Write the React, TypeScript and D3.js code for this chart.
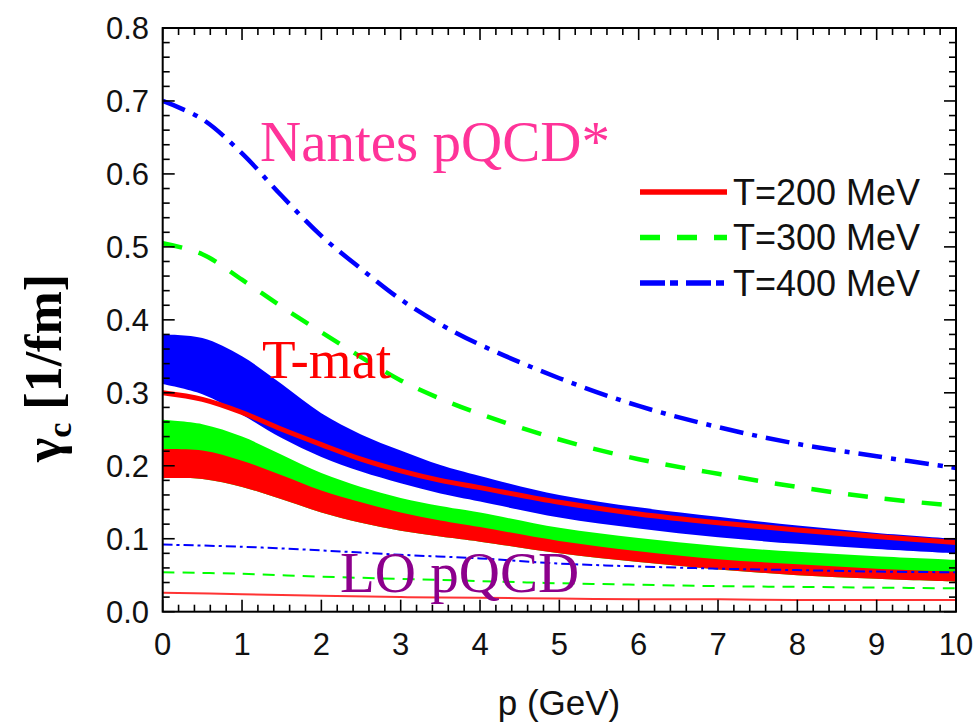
import React from "react";
import * as d3 from "d3";

const P = [0, 0.5, 1, 1.5, 2, 2.5, 3, 3.5, 4, 5, 6, 7, 8, 9, 10];
const nantes400 = [0.700, 0.675, 0.628, 0.570, 0.515, 0.470, 0.428, 0.394, 0.366, 0.320, 0.282, 0.253, 0.230, 0.213, 0.197];
const nantes300 = [0.505, 0.490, 0.455, 0.418, 0.383, 0.349, 0.317, 0.292, 0.271, 0.236, 0.209, 0.189, 0.171, 0.156, 0.145];
const tmat400Lo = [0.312, 0.298, 0.270, 0.238, 0.212, 0.192, 0.176, 0.162, 0.151, 0.129, 0.114, 0.102, 0.093, 0.086, 0.080];
const tmat400Hi = [0.380, 0.375, 0.350, 0.312, 0.272, 0.243, 0.221, 0.201, 0.186, 0.160, 0.143, 0.130, 0.118, 0.108, 0.100];
const tmatRedLine = [0.300, 0.291, 0.273, 0.250, 0.229, 0.209, 0.193, 0.180, 0.170, 0.150, 0.134, 0.122, 0.112, 0.103, 0.095];
const tmat300Hi = [0.263, 0.257, 0.240, 0.215, 0.190, 0.171, 0.156, 0.145, 0.136, 0.115, 0.101, 0.090, 0.082, 0.076, 0.071];
const tmat200Hi = [0.223, 0.221, 0.207, 0.187, 0.166, 0.150, 0.136, 0.125, 0.116, 0.097, 0.083, 0.072, 0.065, 0.059, 0.055];
const tmat200Lo = [0.183, 0.182, 0.171, 0.154, 0.136, 0.122, 0.111, 0.103, 0.096, 0.080, 0.068, 0.058, 0.050, 0.045, 0.041];

const P_LO = [0, 1, 2, 3, 4, 5, 6, 7, 8, 9, 10];
const lo400 = [0.092, 0.089, 0.084, 0.078, 0.073, 0.066, 0.062, 0.059, 0.057, 0.055, 0.054];
const lo300 = [0.054, 0.052, 0.048, 0.045, 0.042, 0.039, 0.037, 0.035, 0.034, 0.033, 0.032];
const lo200 = [0.026, 0.024, 0.022, 0.020, 0.019, 0.018, 0.017, 0.017, 0.016, 0.016, 0.016];

const xTickValues = [0, 1, 2, 3, 4, 5, 6, 7, 8, 9, 10];
const yTickValues = [0, 0.1, 0.2, 0.3, 0.4, 0.5, 0.6, 0.7, 0.8];
const legendLabels = ["T=200 MeV", "T=300 MeV", "T=400 MeV"];

const W = 977, H = 722;
const L = 162.7, R = 956, T = 28, B = 611.7;

export default function App() {
  const x = d3.scaleLinear().domain([0, 10]).range([L, R]);
  const y = d3.scaleLinear().domain([0, 0.8]).range([B, T]);
  const curve = d3.curveCatmullRom.alpha(0.5);

  const line = d3.line<[number, number]>().x(d => x(d[0])).y(d => y(d[1])).curve(curve);
  const pts = (xs: number[], ys: number[]) => xs.map((v, i) => [v, ys[i]] as [number, number]);
  const band = (lo: number[], hi: number[]) =>
    d3.area<number>().x((_, i) => x(P[i])).y0((_, i) => y(lo[i])).y1((_, i) => y(hi[i])).curve(curve)(P) || "";

  const xMinor = d3.range(0, 10.0001, 0.2);
  const yMinor = d3.range(0, 0.80001, 0.02);

  const blue = "#0000ff", green = "#00ff00", red = "#ff0000";
  const dashDot = "24 9 5 9";
  const dash = "20 17";

  return (
    <svg width={W} height={H} style={{ position: "absolute", left: 0, top: 0, background: "#fff" }}>
      <rect x={0} y={0} width={W} height={H} fill="#fff" />
      {/* T-matrix bands */}
      <path d={band(tmat400Lo, tmat400Hi)} fill={blue} />
      <path d={line(pts(P, tmatRedLine)) || ""} fill="none" stroke={red} strokeWidth={5} />
      <path d={band(tmat200Lo, tmat300Hi)} fill={green} />
      <path d={band(tmat200Lo, tmat200Hi)} fill={red} />

      {/* Nantes pQCD* */}
      <path d={line(pts(P, nantes400)) || ""} fill="none" stroke={blue} strokeWidth={4.5} strokeDasharray={dashDot} />
      <path d={line(pts(P, nantes300)) || ""} fill="none" stroke={green} strokeWidth={4.5} strokeDasharray={dash} />

      {/* LO pQCD */}
      <path d={line(pts(P_LO, lo400)) || ""} fill="none" stroke={blue} strokeWidth={2} strokeDasharray="10 4 3 4" />
      <path d={line(pts(P_LO, lo300)) || ""} fill="none" stroke={green} strokeWidth={2} strokeDasharray="12 8" />
      <path d={line(pts(P_LO, lo200)) || ""} fill="none" stroke={red} strokeWidth={2} opacity={0.8} />

      {/* frame */}
      <rect x={L} y={T} width={R - L} height={B - T} fill="none" stroke="#000" strokeWidth={2} />
      {xMinor.map((v, i) => {
        const major = Math.abs(v - Math.round(v)) < 1e-6;
        const len = major ? 12 : 7;
        return (
          <g key={"xt" + i} stroke="#000" strokeWidth={1.6}>
            <line x1={x(v)} x2={x(v)} y1={B} y2={B - len} />
            <line x1={x(v)} x2={x(v)} y1={T} y2={T + len} />
          </g>
        );
      })}
      {yMinor.map((v, i) => {
        const major = Math.abs(v * 10 - Math.round(v * 10)) < 1e-6;
        const len = major ? 12 : 7;
        return (
          <g key={"yt" + i} stroke="#000" strokeWidth={1.6}>
            <line x1={L} x2={L + len} y1={y(v)} y2={y(v)} />
            <line x1={R} x2={R - len} y1={y(v)} y2={y(v)} />
          </g>
        );
      })}
      {xTickValues.map(v => (
        <text key={"xl" + v} x={x(v)} y={655} textAnchor="middle" fontFamily="Liberation Sans, Arial, sans-serif" fontSize={31} fill="#111">
          {String(v)}
        </text>
      ))}
      {yTickValues.map(v => (
        <text key={"yl" + v} x={149} y={y(v)} dy="0.36em" textAnchor="end" fontFamily="Liberation Sans, Arial, sans-serif" fontSize={31} fill="#111">
          {d3.format(".1f")(v)}
        </text>
      ))}
      <text x={559} y={715} textAnchor="middle" fontFamily="Liberation Sans, Arial, sans-serif" fontSize={35} fill="#111">p (GeV)</text>
      <text transform="translate(61,368) rotate(-90)" textAnchor="middle" fontFamily="Liberation Serif, Times New Roman, serif" fontWeight="bold" fontSize={52} fill="#000">
        <tspan>γ</tspan>
        <tspan fontSize={34} dy={10}>c</tspan>
        <tspan dy={-10}> [1/fm]</tspan>
      </text>

      {/* legend */}
      {legendLabels.map((lab, i) => {
        const ly = 192 + i * 45.5;
        const col = [red, green, blue][i];
        const da = [undefined, dash, "25 5 8 8"][i];
        return (
          <g key={lab}>
            <line x1={640} x2={727} y1={ly} y2={ly} stroke={col} strokeWidth={5.5} strokeDasharray={da} />
            <text x={733} y={ly} dy="0.36em" fontFamily="Liberation Sans, Arial, sans-serif" fontSize={36} fill="#111">{lab}</text>
          </g>
        );
      })}

      {/* annotations */}
      <text x={260} y={161} fontFamily="Liberation Serif, Times New Roman, serif" fontSize={57} fill="#ff3399">Nantes pQCD*</text>
      <text x={262} y={378} fontFamily="Liberation Serif, Times New Roman, serif" fontSize={55} fill="#ff0000">T-mat</text>
      <text x={340} y={592} fontFamily="Liberation Serif, Times New Roman, serif" fontSize={57} fill="#8c008c">LO pQCD</text>
    </svg>
  );
}
